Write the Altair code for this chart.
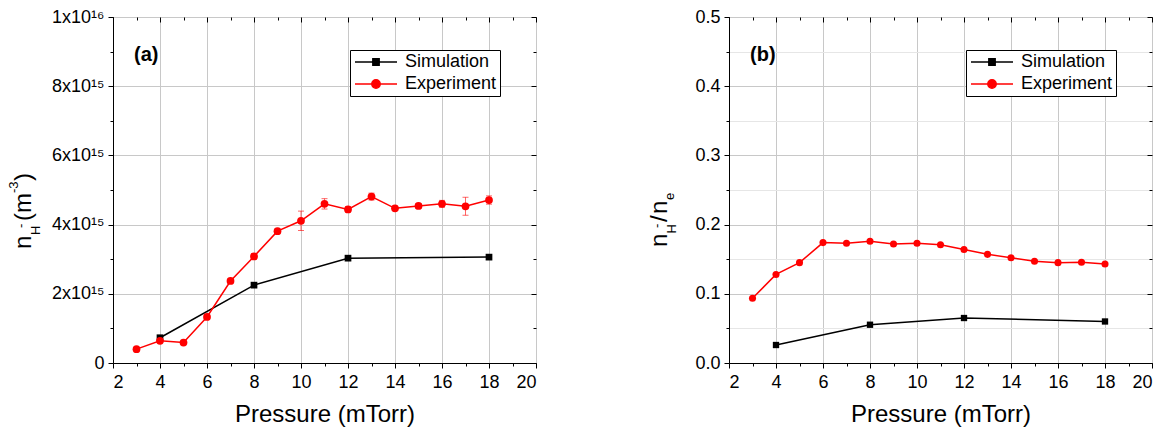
import altair as alt
import pandas as pd

# ---------------- data ----------------
pressure_sim = [4, 8, 12, 18]
nh_sim = [0.73e15, 2.25e15, 3.03e15, 3.06e15]
ratio_sim = [0.026, 0.0553, 0.065, 0.060]

pressure_exp = [3, 4, 5, 6, 7, 8, 9, 10, 11, 12, 13, 14, 15, 16, 17, 18]
nh_exp = [0.40e15, 0.64e15, 0.59e15, 1.33e15, 2.37e15, 3.08e15, 3.81e15, 4.11e15,
          4.60e15, 4.44e15, 4.81e15, 4.47e15, 4.54e15, 4.60e15, 4.53e15, 4.71e15]
nh_err = [0.03e15, 0.05e15, 0.04e15, 0.06e15, 0.06e15, 0.08e15, 0.06e15, 0.28e15,
          0.15e15, 0.08e15, 0.10e15, 0.06e15, 0.07e15, 0.10e15, 0.26e15, 0.12e15]
ratio_exp = [0.0935, 0.128, 0.145, 0.174, 0.173, 0.176, 0.172, 0.173,
             0.171, 0.164, 0.157, 0.152, 0.147, 0.145, 0.1455, 0.143]

x_major = [2, 4, 6, 8, 10, 12, 14, 16, 18, 20]
x_minor = [3, 5, 7, 9, 11, 13, 15, 17, 19]
ya_major = [0, 2e15, 4e15, 6e15, 8e15, 1e16]
ya_minor = [1e15, 3e15, 5e15, 7e15, 9e15]
yb_major = [0.0, 0.1, 0.2, 0.3, 0.4, 0.5]
yb_minor = [0.05, 0.15, 0.25, 0.35, 0.45]

series_names = ["Simulation", "Experiment"]
series_colors = ["black", "red"]

FONT = "Liberation Sans"

# legend symbols: line sample with marker in the middle
SQ_PATH = "M-1,0L5,0M1.55,-0.45L2.45,-0.45L2.45,0.45L1.55,0.45Z"
CI_PATH = "M-1,0L5,0M2.6,0A0.6,0.6 0 1,1 1.4,0A0.6,0.6 0 1,1 2.6,0Z"

W, H = 423, 346


def title_layer(pieces):
    one = pd.DataFrame({"k": [0]})
    layers = []
    for txt, size, bx, sy in pieces:
        layers.append(
            alt.Chart(one).mark_text(
                text=txt, font=FONT, fontSize=size, angle=270, align="left",
                baseline="alphabetic", color="black"
            ).encode(x=alt.value(bx), y=alt.value(sy))
        )
    return layers


def panel(sim_vals, exp_vals, err_vals, y_major, y_minor, y_dom, label_expr,
          tag, pieces, minor_grid, sim_size, exp_size):
    sim_df = pd.DataFrame({"p": pressure_sim, "v": sim_vals})
    exp_df = pd.DataFrame({"p": pressure_exp, "v": exp_vals})
    if err_vals is not None:
        exp_df["lo"] = [v - e for v, e in zip(exp_vals, err_vals)]
        exp_df["hi"] = [v + e for v, e in zip(exp_vals, err_vals)]

    xs = alt.Scale(domain=[2, 20], nice=False, zero=False)
    ys = alt.Scale(domain=y_dom, nice=False, zero=False)

    def xn(axis=None):
        return alt.X("p:Q", scale=xs, axis=axis)

    def yn(field="v", axis=None):
        return alt.Y(f"{field}:Q", scale=ys, axis=axis)

    common = dict(labelFont=FONT, labelFontSize=18, labelColor="black", tickColor="black",
                  titleFont=FONT, titleFontSize=24, titleFontWeight="normal",
                  titleColor="black")

    x_main = alt.Axis(orient="bottom", values=x_major, format="d", title="Pressure (mTorr)",
                      grid=True, gridColor="#c8c8c8", tickSize=5, labelPadding=5,
                      titlePadding=11, domainColor="black", **common)
    y_main = alt.Axis(orient="left", values=y_major, labelExpr=label_expr, title=None,
                      grid=True, gridColor="#c8c8c8", tickSize=5, labelPadding=4,
                      domainColor="black", **common)

    main_line = alt.Chart(sim_df).mark_line(color="black", strokeWidth=1.5).encode(
        x=xn(x_main), y=yn(axis=y_main))
    sim_pts = alt.Chart(sim_df).mark_point(shape="square", filled=True, color="black",
                                           size=sim_size, opacity=1).encode(x=xn(), y=yn())
    exp_line = alt.Chart(exp_df).mark_line(color="red", strokeWidth=1.5).encode(x=xn(), y=yn())
    exp_pts = alt.Chart(exp_df).mark_point(shape="circle", filled=True, color="red",
                                           size=exp_size, opacity=1).encode(x=xn(), y=yn())

    # minor ticks / minor grid
    minor = alt.Chart(sim_df).mark_point(opacity=0).encode(
        x=xn(alt.Axis(orient="bottom", values=x_minor, labels=False, domain=False, grid=False,
                      tickSize=3, title=None, tickColor="black")),
        y=yn(axis=alt.Axis(orient="left", values=y_minor, labels=False, domain=False,
                           grid=minor_grid, gridColor="#e6e6e6", tickSize=3, title=None,
                           tickColor="black")))
    # mirrored inward ticks on top and right
    mirror = alt.Chart(sim_df).mark_point(opacity=0).encode(
        x=xn(alt.Axis(orient="top", values=x_major, labels=False, domain=False, grid=False,
                      tickSize=5, offset=-5, title=None, tickColor="black")),
        y=yn(axis=alt.Axis(orient="right", values=y_major, labels=False, domain=False,
                           grid=False, tickSize=5, offset=-5, title=None, tickColor="black")))
    mirror_minor = alt.Chart(sim_df).mark_point(opacity=0).encode(
        x=xn(alt.Axis(orient="top", values=x_minor, labels=False, domain=False, grid=False,
                      tickSize=3, offset=-3, title=None, tickColor="black")),
        y=yn(axis=alt.Axis(orient="right", values=y_minor, labels=False, domain=False,
                           grid=False, tickSize=3, offset=-3, title=None, tickColor="black")))

    leg = alt.Legend(title=None, orient="none", legendX=237, legendY=33, padding=3,
                     strokeColor="black", fillColor="white", symbolSize=196,
                     symbolStrokeWidth=1.5, symbolOpacity=1, labelOffset=34,
                     labelFont=FONT, labelFontSize=18, labelColor="black", rowPadding=4,
                     labelLimit=300)
    leg_df = pd.DataFrame({"series": series_names})
    legend_layer = alt.Chart(leg_df).transform_filter("false").mark_point(
        filled=True, strokeWidth=1.5, size=196).encode(
        fill=alt.Fill("series:N", scale=alt.Scale(domain=series_names, range=series_colors),
                      legend=leg),
        stroke=alt.Stroke("series:N", scale=alt.Scale(domain=series_names, range=series_colors),
                          legend=leg),
        shape=alt.Shape("series:N", scale=alt.Scale(domain=series_names, range=[SQ_PATH, CI_PATH]),
                        legend=leg),
    )

    one = pd.DataFrame({"k": [0]})
    tag_layer = alt.Chart(one).mark_text(
        text=tag, font=FONT, fontSize=20, fontWeight="bold", align="left",
        baseline="alphabetic", color="black").encode(x=alt.value(21), y=alt.value(44))

    layers = [minor, mirror, mirror_minor, main_line, sim_pts, exp_line]
    if err_vals is not None:
        err_rule = alt.Chart(exp_df).mark_rule(color="red", opacity=0.6, strokeWidth=1).encode(
            x=xn(), y=yn("lo"), y2="hi:Q")
        caps = alt.Chart(exp_df).transform_fold(["lo", "hi"], as_=["end", "val"]).mark_tick(
            color="red", opacity=0.6, orient="horizontal", size=6, thickness=1).encode(
            x=xn(), y=yn("val"))
        layers += [err_rule, caps]
    layers += [exp_pts, legend_layer, tag_layer] + title_layer(pieces)

    return alt.layer(*layers).resolve_axis(x="independent", y="independent").properties(
        width=W, height=H)


left_pieces = [
    ("n", 24, -82, 232),
    ("H", 13, -73, 218),
    ("-", 13, -88.5, 211),
    ("(m", 24, -82, 204),
    ("-3", 13, -95, 176),
    (")", 24, -82, 164),
]
right_pieces = [
    ("n", 24, -62, 230),
    ("H", 13, -53, 216.5),
    ("-", 13, -68, 211),
    ("/", 24, -62, 205),
    ("n", 24, -62, 197),
    ("e", 13, -55, 183),
]

label_a = ("datum.value == 0 ? '0' : datum.value >= 1e16 ? '1x10\u00b9\u2076' : "
           "format(datum.value / 1e15, 'd') + 'x10\u00b9\u2075'")
label_b = "format(datum.value, '.1f')"

left = panel(nh_sim, nh_exp, nh_err, ya_major, ya_minor, [0, 1e16], label_a,
             "(a)", left_pieces, False, 45, 60)
right = panel(ratio_sim, ratio_exp, None, yb_major, yb_minor, [0, 0.5], label_b,
              "(b)", right_pieces, True, 40, 50)

chart = alt.hconcat(left, right, spacing=110).resolve_scale(
    fill="independent", stroke="independent", shape="independent"
).resolve_legend(
    fill="independent", stroke="independent", shape="independent"
).properties(
    padding={"left": 7, "top": 7, "right": 5, "bottom": 0},
    background="white"
).configure_view(
    stroke="black", strokeWidth=1
).configure_axis(
    labelFont=FONT, labelFontSize=18, labelColor="black",
    titleFont=FONT, titleFontSize=24, titleFontWeight="normal", titleColor="black",
    tickColor="black", domainColor="black", domainWidth=1, tickWidth=1
)

chart.save("out.html", embed_options={"renderer": "svg", "actions": False})
